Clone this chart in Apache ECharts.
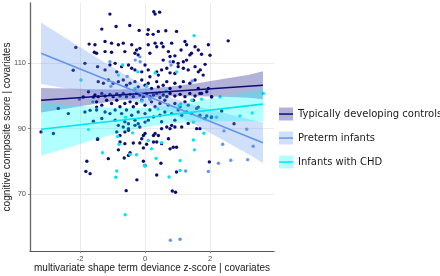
<!DOCTYPE html>
<html lang="en">
<head>
  <meta charset="UTF-8">
  <title>shape deviance vs cognition</title>
  <script src="https://cdn.jsdelivr.net/npm/echarts@6/dist/echarts.min.js"></script>
  <style>
    html, body { margin: 0; padding: 0; background: #fff; }
    #chart { width: 440px; height: 276px; }
  </style>
</head>
<body>
  <div id="chart"></div>
  <script>
    const groups = ['Typically developing controls', 'Preterm infants', 'Infants with CHD']
    const xTicks = [-2, 0, 2]
    const yTicks = [70, 90, 110]

    // scatter points
    const tdPoints = [
      [-1.08,125.1],[0.27,125.8],[0.31,125.1],[0.45,125.7],[-0.89,121.3],[-0.47,121.6],[-1.33,120.5],[-0.18,120.1],[0.10,120.3],[0.08,118.9],[0.25,118.9],[0.41,119.8],[0.64,120.0],[0.97,119.8],
      [-1.54,115.7],[-1.23,116.7],[-1.03,116.2],[-0.82,115.7],[-0.67,116.2],[-0.62,113.6],[-0.41,115.7],[-0.26,114.1],[-0.16,114.6],[0.10,115.7],[0.31,116.2],[0.36,115.1],[0.51,116.2],[0.56,115.1],[0.82,116.2],[1.23,116.7],[1.28,115.7],[1.54,115.1],[1.64,114.1],[1.95,115.7],[1.43,113.1],[1.38,112.6],
      [-1.49,113.1],[-1.23,113.6],[-1.03,113.4],[-0.31,113.1],[-0.21,112.6],[0.15,113.1],[0.72,113.6],[0.77,112.1],[0.92,112.3],[1.11,114.1],[1.18,110.5],[1.28,111.0],[0.87,110.5],[1.02,110.0],[0.56,111.0],
      [-1.46,109.0],[-1.23,108.0],[-1.08,109.5],[-0.92,110.0],[-0.87,107.4],[-0.72,109.0],[-0.51,109.5],[-0.41,108.5],[-0.31,108.0],[-0.10,107.4],[0.00,109.5],[0.10,108.0],[0.15,105.9],[0.36,107.4],[0.41,106.4],[0.51,108.0],[0.67,108.5],[0.77,107.1],[0.92,106.9],[1.02,109.0],[1.18,108.5],[1.33,108.0],[1.54,109.0],[1.64,107.4],[1.79,106.4],
      [-1.44,104.4],[-1.28,103.9],[-1.13,104.9],[-0.98,103.9],[-0.82,104.4],[-0.67,104.9],[-0.57,103.3],[-0.46,103.9],[-0.31,104.4],[-0.21,102.8],[-0.10,104.9],[0.00,103.3],[0.10,103.9],[0.20,102.3],[0.36,104.4],[0.41,102.8],[0.56,103.3],[0.67,104.4],[0.77,102.3],[0.92,103.9],[1.08,102.8],[1.18,104.4],[1.38,103.9],[1.54,104.9],[1.64,102.3],
      [-1.54,100.3],[-1.44,99.8],[-1.33,100.8],[-1.23,100.0],[-1.08,100.5],[-0.98,99.8],[-0.87,100.6],[-0.77,100.0],[-0.67,100.8],[-0.57,99.8],[-0.46,100.5],[-0.36,99.8],[-0.26,100.8],[-0.16,100.3],[-0.05,99.8],[0.05,100.6],[0.15,99.8],[0.26,100.3],[0.36,100.8],[0.46,99.5],[0.56,100.3],[0.67,99.8],[0.77,100.8],[0.92,100.0],[1.08,100.5],[1.23,99.8],[1.38,100.8],[1.54,100.0],[1.74,100.8],[1.90,101.3],[2.05,99.8],
      [-1.49,98.2],[-1.33,97.2],[-1.18,98.7],[-1.03,97.7],[-0.87,98.7],[-0.77,96.7],[-0.62,97.7],[-0.46,98.2],[-0.36,96.7],[-0.26,97.7],[-0.10,98.7],[0.00,97.2],[0.20,98.2],[0.31,96.7],[0.46,97.7],[0.61,98.7],[0.72,97.2],[0.92,97.7],[1.08,96.7],[1.23,98.2],[1.33,97.2],[1.49,98.7],[1.59,96.2],
      [-1.49,95.7],[-1.23,95.1],[-1.08,94.6],[-0.92,95.7],[-0.72,94.6],[-0.57,95.7],[-0.41,94.1],[-0.21,95.1],[0.00,94.6],[0.15,95.7],[0.26,93.6],[0.46,94.1],[0.61,95.1],[0.82,94.6],[1.02,95.7],[1.13,94.1],[1.28,95.1],[1.43,94.6],[1.69,94.1],[1.84,93.1],[2.05,93.6],
      [-1.33,93.1],[-0.92,92.6],[-0.62,92.1],[-0.31,92.6],[0.10,92.6],[0.51,92.1],[0.92,92.6],[1.33,91.6],
      [-0.82,91.0],[-0.67,90.5],[-0.51,91.5],[-0.51,90.0],[-0.31,91.0],[-0.21,91.5],[-0.16,90.5],[0.00,92.0],[-0.87,89.0],[-0.77,87.9],[-0.62,89.0],[-0.51,89.5],[-0.05,87.9],[0.00,88.5],[0.26,87.9],[0.31,88.5],[0.41,87.9],[0.51,90.0],[0.67,90.5],[0.77,90.0],[0.82,91.0],[0.92,90.5],[1.13,90.5],[1.59,90.0],[1.69,90.0],
      [-1.46,86.7],[-0.77,85.9],[-0.62,85.4],[-0.36,85.6],[-0.16,85.6],[-0.10,86.9],[0.05,85.2],[0.26,85.9],[0.36,85.9],[0.51,85.4],[0.72,86.9],[0.77,83.8],[0.87,84.3],[0.97,84.3],[-0.82,83.5],[-0.46,82.6],[-0.51,81.8],[-0.05,84.1],[-1.13,80.8],[-0.64,81.0],[-0.05,80.0],[0.00,78.7],[0.49,79.4],[0.97,76.7],[1.98,79.8],[0.36,75.8],[-0.25,74.3],[-0.58,71.0],[0.84,70.9],[0.94,70.5],
      [-2.13,114.9],[-1.85,110.0],[-2.21,107.9],[-1.72,115.9],[-1.56,113.4],[-2.67,96.2],[-2.36,94.6],[-3.20,89.0],[-2.82,88.5],[-1.85,95.1],[-1.59,92.3],[-1.74,101.3],[-1.59,99.7],[-1.69,95.6],[-1.49,96.6],[-1.90,99.7],[-1.46,86.9],[-1.79,80.0],[-1.82,76.9],[-1.69,76.2],
      [2.56,116.9],[2.36,95.4],[2.74,91.5],[1.74,112.8],[2.00,112.5],[1.85,109.7],[1.70,108.0],[1.95,102.3],[2.05,99.7],[1.69,100.8],[1.64,96.6],[1.90,93.9],[2.04,93.4]
    ]
    const ptPoints = [
      [0.78,55.8],[1.08,56.1],[2.43,89.3],[3.13,89.8],[2.39,85.2],[2.64,80.3],[3.16,80.5],[2.26,79.4],[1.95,76.9],[1.25,77.0],[2.20,93.5],[3.33,84.6],
      [-0.30,111.0],[0.80,109.5],[1.45,104.6],[-0.55,106.0],[0.15,99.0],[-1.05,103.0],[-2.02,99.0],[0.45,101.0],[1.10,97.6],[-0.15,110.5],[-1.08,110.5],[-0.16,112.0],[0.77,110.5]
    ]
    const chdPoints = [
      [-1.31,82.6],[-0.87,77.0],[-0.90,75.1],[-0.80,85.2],[-0.26,82.0],[-0.46,82.1],[0.34,80.9],[1.08,80.2],[1.08,77.2],[0.74,75.2],[0.00,78.5],[-0.38,88.7],[0.10,86.4],[0.20,83.8],[0.51,85.7],[1.49,86.5],[1.81,88.6],[-0.61,63.6],[-0.84,87.6],
      [1.51,118.5],[0.31,107.1],[0.97,107.4],[0.05,103.0],[-0.31,102.3],[-0.82,106.4],[0.65,101.5],[-0.10,98.5],[0.40,96.0],[1.05,97.2],[-0.60,93.5],
      [2.92,93.9],[3.30,94.8],[3.64,100.8],[1.52,83.5],[2.31,99.7],[1.44,98.7],[1.74,99.0],[-1.97,104.9],[-1.74,89.7],[-0.69,109.5],[-0.22,107.4],[-1.61,98.2],[-0.02,78.7],[1.49,92.0]
    ]

    // fitted lines (end points) and confidence bands
    const tdLine = [[-3.2, 98.7], [3.63, 103.3]]
    const ptLine = [[-3.2, 113.1], [3.63, 85.7]]
    const chdLine = [[-3.2, 89.8], [3.63, 97.5]]
    const bandX = [-3.2, -2.4, -1.6, -0.8, 0, 0.8, 1.6, 2.4, 3.2, 3.63]
    const tdLo = [94.95, 96.2, 97.5, 98.6, 99.4, 99.9, 99.9, 99.8, 99.5, 99.0]
    const tdHi = [102.45, 102.3, 102.1, 102.0, 102.3, 102.9, 103.9, 105.2, 106.5, 107.6]
    const ptLo = [103.7, 102.3, 100.9, 99.4, 97.5, 94.7, 90.9, 86.5, 82.1, 79.5]
    const ptHi = [122.5, 117.5, 112.5, 107.6, 103.1, 99.5, 96.9, 94.9, 92.9, 91.9]
    const chdLo = [81.7, 84.1, 86.5, 88.7, 90.5, 91.6, 92.1, 92.3, 92.3, 92.2]
    const chdHi = [97.9, 97.3, 96.7, 96.3, 96.3, 97.0, 98.3, 99.9, 101.4, 102.2]

    const lineColors = ['#0c0c78', '#6495ed', '#00e6f0']
    const bandColors = ['#000080', '#6495ed', '#00ffff']
    const keyColors = ['#b2b2d9', '#d0dffa', '#b2ffff']

    function bandSeries(name, lo, hi, color) {
      return {
        type: 'custom',
        name: name,
        silent: true,
        clip: true,
        z: 3,
        data: bandX.map((x, i) => [x, lo[i], hi[i]]),
        encode: { x: 0, y: [1, 2] },
        renderItem: function (params, api) {
          if (params.dataIndex !== 0) return null
          const pts = bandX.map((x, i) => api.coord([x, hi[i]]))
          for (let i = bandX.length - 1; i >= 0; i--) pts.push(api.coord([bandX[i], lo[i]]))
          return { type: 'polygon', shape: { points: pts }, style: { fill: color, opacity: 0.3 } }
        }
      }
    }

    function lineSeries(name, data, color) {
      return {
        type: 'line', name: name, data: data, symbol: 'none', silent: true, z: 4,
        lineStyle: { color: color, width: 1.6 }
      }
    }

    const pointSets = [tdPoints, ptPoints, chdPoints]
    const series = groups.map((g, i) => ({
      type: 'scatter', name: g, data: pointSets[i], symbolSize: 3.4, silent: true, z: 2,
      itemStyle: { color: lineColors[i], opacity: 1 }
    }))
    series.push(
      bandSeries(groups[0], tdLo, tdHi, bandColors[0]), lineSeries(groups[0], tdLine, lineColors[0]),
      bandSeries(groups[1], ptLo, ptHi, bandColors[1]), lineSeries(groups[1], ptLine, lineColors[1]),
      bandSeries(groups[2], chdLo, chdHi, bandColors[2]), lineSeries(groups[2], chdLine, lineColors[2])
    )

    const axisFont = 'Liberation Sans, Arial, sans-serif'
    const chart = echarts.init(document.getElementById('chart'))
    chart.setOption({
      animation: false,
      grid: { left: 30, right: 166, top: 3, bottom: 25, outerBoundsMode: 'none', containLabel: false },
      xAxis: {
        type: 'value', min: -3.54, max: 3.97,
        name: 'multivariate shape term deviance z-score | covariates',
        nameLocation: 'middle', nameGap: 12, nameMoveOverlap: false,
        nameTextStyle: { fontSize: 10, color: '#1a1a1a', fontFamily: axisFont },
        axisLine: { onZero: false, lineStyle: { color: '#555', width: 1.2 } },
        axisTick: { customValues: xTicks, length: 2, lineStyle: { color: '#888' } },
        axisLabel: { customValues: xTicks, fontSize: 7.5, color: '#4d4d4d', margin: 4, fontFamily: axisFont },
        splitLine: { show: true, lineStyle: { color: '#ebebeb', width: 1 } }
      },
      yAxis: {
        type: 'value', min: 52.5, max: 128.5,
        name: 'cognitive composite score | covariates',
        nameLocation: 'middle', nameGap: 17.5, nameMoveOverlap: false,
        nameTextStyle: { fontSize: 10, color: '#1a1a1a', fontFamily: axisFont },
        axisLine: { show: true, onZero: false, lineStyle: { color: '#666', width: 1.3 } },
        axisTick: { show: true, customValues: yTicks, length: 2, lineStyle: { color: '#888' } },
        axisLabel: { customValues: yTicks, fontSize: 7.5, color: '#4d4d4d', margin: 4, fontFamily: axisFont },
        splitLine: { show: true, lineStyle: { color: '#ebebeb', width: 1 } }
      },
      legend: {
        orient: 'vertical', left: 279, top: 107.5, padding: 0,
        itemWidth: 14, itemHeight: 13, itemGap: 11,
        selectedMode: false,
        textStyle: { fontFamily: 'DejaVu Sans', fontSize: 10, color: '#1a1a1a' },
        data: groups.map((g, i) => ({ name: g, icon: 'rect', itemStyle: { color: keyColors[i], opacity: 1, borderWidth: 0 } }))
      },
      // the line drawn across each legend key
      graphic: groups.map((g, i) => ({
        type: 'rect', left: 279, top: 113.3 + i * 24, z: 100, silent: true,
        shape: { width: 14, height: 1.5 }, style: { fill: lineColors[i] }
      })),
      series: series
    })
  </script>
</body>
</html>
